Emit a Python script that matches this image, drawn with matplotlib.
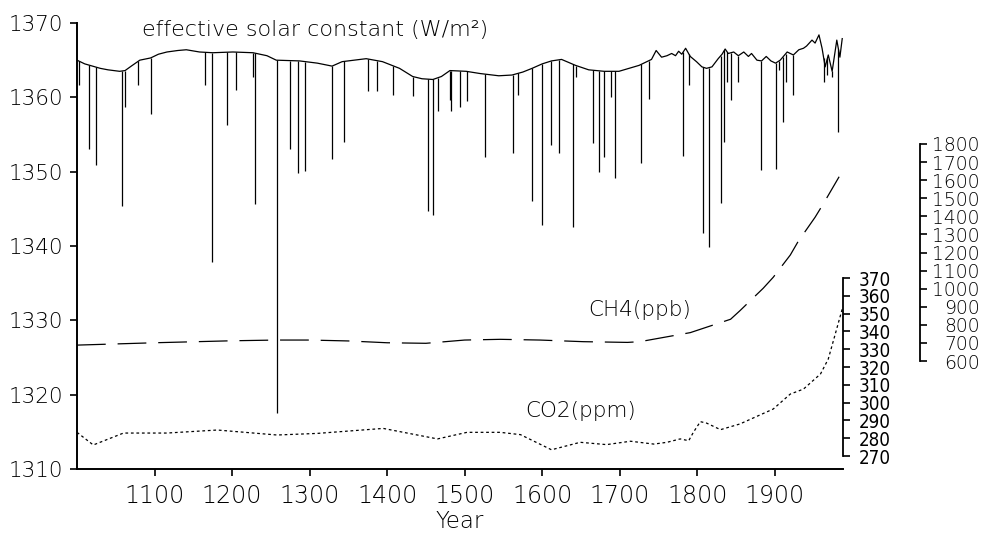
import numpy as np
import matplotlib
matplotlib.use("Agg")
import matplotlib.pyplot as plt

# ---------------- data ----------------
base_years = [1000, 1010, 1020, 1030, 1040, 1055, 1062, 1070, 1081, 1095, 1105, 1116, 1130, 1141,
              1158, 1175, 1201, 1227, 1245, 1257, 1287, 1310, 1329, 1342, 1373, 1394, 1416, 1433,
              1445, 1459, 1470, 1481, 1502, 1520, 1544, 1561, 1575, 1587, 1600, 1612, 1625, 1643,
              1660, 1680, 1699, 1712, 1725, 1735, 1741, 1747, 1754, 1761, 1767, 1772, 1776, 1780,
              1785, 1791, 1799, 1806, 1812, 1819, 1827, 1832, 1836, 1840, 1847, 1853, 1860, 1866,
              1870, 1877, 1883, 1889, 1895, 1901, 1907, 1916, 1924, 1931, 1937, 1941, 1948, 1952,
              1957, 1961, 1965, 1969, 1974, 1980, 1984, 1987]
base_vals = [1365.0, 1364.5, 1364.2, 1363.9, 1363.7, 1363.5, 1363.6, 1364.2, 1365.0, 1365.3, 1365.8,
             1366.1, 1366.3, 1366.4, 1366.1, 1366.0, 1366.1, 1366.0, 1365.6, 1365.0, 1364.9, 1364.6,
             1364.2, 1364.8, 1365.2, 1364.8, 1363.9, 1362.8, 1362.5, 1362.4, 1362.8, 1363.6, 1363.5,
             1363.2, 1362.9, 1363.0, 1363.4, 1363.9, 1364.5, 1364.9, 1365.1, 1364.3, 1363.7, 1363.5,
             1363.5, 1363.9, 1364.3, 1364.8, 1365.1, 1366.3, 1365.4, 1365.6, 1365.9, 1365.6, 1366.2,
             1365.8, 1366.6, 1365.5, 1364.8, 1364.1, 1363.9, 1364.1, 1365.2, 1365.8, 1366.5, 1365.9,
             1366.1, 1365.6, 1366.1, 1365.5, 1365.9, 1365.0, 1364.9, 1365.5, 1364.9, 1364.6, 1365.0,
             1366.1, 1365.7, 1366.4, 1366.6, 1366.9, 1367.7, 1367.3, 1368.4, 1366.6, 1364.1, 1365.7,
             1363.5, 1367.7, 1365.4, 1367.9]

spike_years = [1003, 1015, 1025, 1058, 1062, 1079, 1096, 1165, 1174, 1194, 1205, 1227, 1229, 1258,
               1275, 1285, 1294, 1329, 1345, 1375, 1387, 1407, 1434, 1453, 1459, 1465, 1481, 1483,
               1494, 1503, 1526, 1563, 1569, 1587, 1600, 1612, 1622, 1640, 1644, 1666, 1673, 1680,
               1689, 1694, 1728, 1738, 1782, 1789, 1808, 1815, 1830, 1835, 1839, 1843, 1853, 1882,
               1901, 1906, 1911, 1914, 1923, 1963, 1968, 1974, 1982]
spike_vals = [1361.7, 1353.1, 1350.9, 1345.4, 1358.7, 1361.6, 1357.8, 1361.6, 1337.9, 1356.3, 1361.0,
              1362.8, 1345.6, 1317.6, 1353.1, 1349.8, 1350.1, 1351.7, 1354.0, 1360.9, 1360.9, 1360.3,
              1360.2, 1344.7, 1344.2, 1358.1, 1359.7, 1358.1, 1358.7, 1359.5, 1352.0, 1352.5, 1360.3,
              1346.0, 1342.8, 1353.6, 1352.5, 1342.5, 1362.8, 1353.9, 1349.9, 1352.0, 1360.1, 1349.2,
              1351.1, 1359.8, 1352.1, 1361.7, 1341.8, 1339.9, 1345.8, 1354.0, 1362.1, 1359.6, 1362.1,
              1350.2, 1350.4, 1363.7, 1356.7, 1362.1, 1360.3, 1362.1, 1363.0, 1362.8, 1355.4]

ch4_years = [1000, 1100, 1200, 1258, 1300, 1350, 1400, 1450, 1500, 1546, 1597, 1653, 1710, 1726,
             1791, 1843, 1855, 1885, 1898, 1920, 1930, 1952, 1963, 1983]
ch4_vals = [688, 701, 712, 716, 716, 711, 701, 698, 716, 720, 716, 707, 703, 707,
            757, 831, 878, 1002, 1063, 1186, 1260, 1395, 1472, 1619]

co2_years = [1000, 1021, 1060, 1116, 1181, 1258, 1310, 1395, 1465, 1503, 1546, 1572, 1612, 1649,
             1683, 1714, 1744, 1761, 1778, 1789, 1795, 1804, 1812, 1830, 1855, 1898, 1920, 1937,
             1959, 1969, 1978, 1987]
co2_vals = [283.3, 276.2, 282.9, 282.9, 284.6, 281.8, 282.7, 285.5, 279.6, 283.3, 283.3, 282.0,
            273.5, 277.7, 276.4, 278.3, 276.7, 277.7, 279.6, 278.6, 283.3, 289.3, 288.5, 284.8,
            288.0, 296.4, 304.8, 307.6, 316.1, 324.5, 338.5, 352.6]

x_ticks = [1100, 1200, 1300, 1400, 1500, 1600, 1700, 1800, 1900]
y_ticks = [1310, 1320, 1330, 1340, 1350, 1360, 1370]
co2_ticks = [270, 280, 290, 300, 310, 320, 330, 340, 350, 360, 370]
ch4_ticks = [600, 700, 800, 900, 1000, 1100, 1200, 1300, 1400, 1500, 1600, 1700, 1800]

# ---------------- figure ----------------
plt.rcParams['font.family'] = ['DejaVu Sans']
FONT_W = 'light'

fig = plt.figure(figsize=(9.84, 5.35), dpi=100)
ax = fig.add_axes([77 / 984, 1 - 469 / 535, 766 / 984, 446 / 535])

ax.plot(base_years, base_vals, color='black', lw=0.9)
spike_top = np.interp(spike_years, base_years, base_vals)
ax.vlines(spike_years, spike_vals, spike_top, color='black', lw=0.9)

ax.set_xlim(1000, 1988)
ax.set_ylim(1310, 1370)
ax.set_xticks(x_ticks)
ax.set_yticks(y_ticks)
for s in ['top', 'right']:
    ax.spines[s].set_visible(False)
for s in ['left', 'bottom']:
    ax.spines[s].set_linewidth(1.4)
ax.tick_params(axis='both', direction='out', length=5, width=1.2, colors='black')
ax.tick_params(axis='y', pad=5, labelsize=15.5)
ax.tick_params(axis='x', pad=6, labelsize=17)
for lab in ax.get_xticklabels() + ax.get_yticklabels():
    lab.set_fontweight(FONT_W)
ax.set_xlabel('Year', fontsize=16.5, fontweight=FONT_W, labelpad=1)

ax.text(0.085, 0.984, 'effective solar constant (W/m²)', transform=ax.transAxes,
        ha='left', va='center', fontsize=16, fontweight=FONT_W)

# CO2 axis
ax_co2 = ax.twinx()
ax_co2.plot(co2_years, co2_vals, color='black', lw=0.9, dashes=(2.2, 2.2))
ax_co2.set_ylim(262.7, 513.3)
ax_co2.set_yticks(co2_ticks)
for s in ['top', 'left', 'bottom']:
    ax_co2.spines[s].set_visible(False)
ax_co2.spines['right'].set_bounds(270, 370)
ax_co2.spines['right'].set_linewidth(1.3)
ax_co2.tick_params(axis='y', direction='out', length=5, width=1.2, labelsize=13.5, pad=6)
for lab in ax_co2.get_yticklabels():
    lab.set_fontweight(FONT_W)
    lab.set_fontstretch('condensed')
ax_co2.text(0.585, 0.130, 'CO2(ppm)', transform=ax.transAxes, ha='left', va='center',
            fontsize=15.5, fontweight=FONT_W)

# CH4 axis
ax_ch4 = ax.twinx()
ax_ch4.plot(ch4_years, ch4_vals, color='black', lw=0.9, dashes=(23, 9.5))
ax_ch4.set_ylim(3, 2469)
ax_ch4.set_yticks(ch4_ticks)
for s in ['top', 'left', 'bottom']:
    ax_ch4.spines[s].set_visible(False)
ax_ch4.spines['right'].set_position(('axes', (920 - 77) / 766))
ax_ch4.spines['right'].set_bounds(600, 1800)
ax_ch4.spines['right'].set_linewidth(1.3)
ax_ch4.tick_params(axis='y', direction='out', length=5, width=1.2, labelsize=13.5, pad=38)
for lab in ax_ch4.get_yticklabels():
    lab.set_fontweight(FONT_W)
    lab.set_horizontalalignment('right')
ax_ch4.text(0.667, 0.3565, 'CH4(ppb)', transform=ax.transAxes, ha='left', va='center',
            fontsize=15.5, fontweight=FONT_W)

fig.savefig('out.png', dpi=100)
